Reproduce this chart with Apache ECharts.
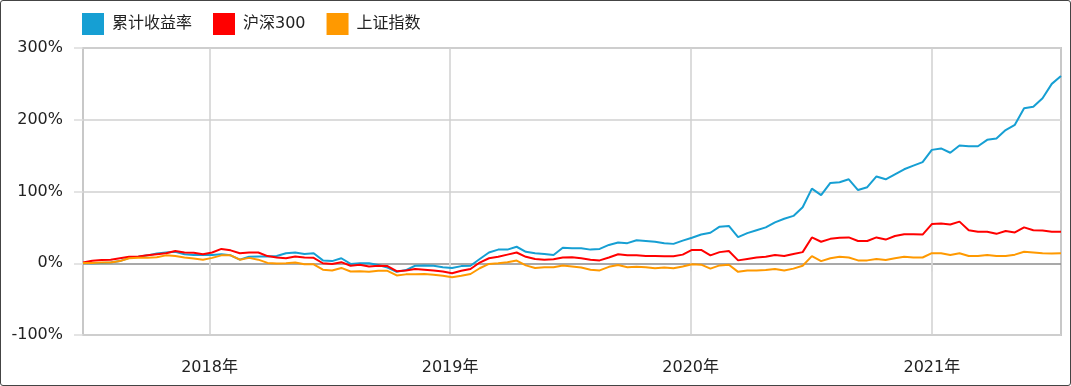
<!DOCTYPE html>
<html>
<head>
<meta charset="utf-8">
<script src="https://cdn.jsdelivr.net/npm/echarts@6/dist/echarts.min.js"></script>
<style>
html,body{margin:0;padding:0;background:#fff;}
#wrap{position:relative;width:1071px;height:386px;}
#chart{position:absolute;left:0;top:0;width:1071px;height:386px;}
#frame{position:absolute;left:0;top:0;width:1071px;height:386px;box-sizing:border-box;border:1px solid #444;border-radius:3px;pointer-events:none;}
</style>
</head>
<body>
<div id="wrap"><div id="chart"></div><div id="frame"></div></div>
<script>
// ---- data ----
const dates = [
'2017-06-23','2017-07-07','2017-07-21','2017-08-04','2017-08-18','2017-09-01','2017-09-15','2017-09-29','2017-10-13','2017-10-27','2017-11-10','2017-11-24','2017-12-08','2017-12-22',
'2018-01-05','2018-01-19','2018-02-02','2018-02-16','2018-03-02','2018-03-16','2018-03-30','2018-04-13','2018-04-27','2018-05-11','2018-05-25','2018-06-08','2018-06-22','2018-07-06','2018-07-20','2018-08-03','2018-08-17','2018-08-31','2018-09-14','2018-09-28','2018-10-12','2018-10-26','2018-11-09','2018-11-23','2018-12-07','2018-12-21',
'2019-01-04','2019-01-18','2019-02-01','2019-02-15','2019-03-01','2019-03-15','2019-03-29','2019-04-12','2019-04-26','2019-05-10','2019-05-24','2019-06-07','2019-06-21','2019-07-05','2019-07-19','2019-08-02','2019-08-16','2019-08-30','2019-09-13','2019-09-27','2019-10-11','2019-10-25','2019-11-08','2019-11-22','2019-12-06','2019-12-20',
'2020-01-03','2020-01-17','2020-01-31','2020-02-14','2020-02-28','2020-03-13','2020-03-27','2020-04-10','2020-04-24','2020-05-08','2020-05-22','2020-06-05','2020-06-19','2020-07-03','2020-07-17','2020-07-31','2020-08-14','2020-08-28','2020-09-11','2020-09-25','2020-10-09','2020-10-23','2020-11-06','2020-11-20','2020-12-04','2020-12-18',
'2021-01-01','2021-01-15','2021-01-29','2021-02-12','2021-02-26','2021-03-12','2021-03-26','2021-04-09','2021-04-23','2021-05-07','2021-05-21','2021-06-04','2021-06-18','2021-07-02','2021-07-16'
];
const cumReturn = [
0.5,0,0.5,1,3,7.5,9,11,13.5,15,16,12.5,11.5,11.5,
11.5,12.5,11,5,9,9.5,9.5,10,14,15,13,14,4,3,7,-1,0,0,-2.5,-6,-12,-9.5,-3.5,-3,-3.5,-5.5,
-6.5,-4,-3.5,6,15,19,19,23,16,14,13,11.5,21.5,21,21,19,20,25.5,29,28,32,31,30,28,27,31.5,
35.6,40,42.5,51,52,36.5,42,46,50,57,62,66,78,104,95,112,113,117,102,106,121,117,124,131,136,141,
158,160,154,164,163,163,172,174,185.6,193,216,218,230,250,261
];
const hs300 = [
1,3.5,4.5,5,7,9,9.5,11,12.5,14,17,15,14.5,12.5,
15,20,18,14,15,15,10,8,7,9.5,8,7.5,0,-1,1.5,-3.5,-2,-4.5,-3.5,-4,-11,-10,-8,-9,-10,-11.5,
-14,-10.5,-8,1,7,9,12,15,9,6,5,5.5,8,8.5,7,5,4,8,12.5,11,11,10,10,9.7,9.7,12,
18.5,18.5,11,15.5,17,4,6,8,9,11.6,10,13,15.5,36,30,34,35.5,36,31,31,36,33,38,40.5,40.5,40,
54.6,55.5,54,58,46,44,44,41,45,43,50,46,45.5,44,44
];
const szIndex = [
0.5,0.5,1,1,3,7,7.5,7.5,8.5,11,10,8,6.5,5,
7.5,11,11,5,7.5,5,0.5,-0.5,0,1,-1.5,-1.5,-9,-10,-6.5,-11.5,-11,-12,-10.5,-10.5,-17,-15.5,-15.5,-15,-16,-17.5,
-19.5,-17.5,-15,-7,-1,0,1.5,3.7,-3,-6.5,-5.5,-5.5,-3,-4.5,-6,-9,-10,-5,-2.5,-5.5,-5,-5.5,-7,-6,-7,-4.5,
-1.5,-2,-7.5,-3,-2,-12,-10,-10,-9.5,-8,-10,-7.5,-3.5,10,3,7,9,8,4,4,6,4.5,7,9,8,8,
14,14,11.6,14,10,10,11.5,10,10,12,16,15,14,13.5,14
];
const seriesNames = ['累计收益率','沪深300','上证指数'];
const yearTicks = ['2018-01-01','2019-01-01','2020-01-01','2021-01-01'];
const yTicks = {min:-100,max:300,step:100};

const ts = s => { const p = s.split('-').map(Number); return Date.UTC(p[0], p[1]-1, p[2]); };
const pair = arr => dates.map((d,i)=>[ts(d), arr[i]]);
const yearTs = yearTicks.map(ts);
const font = 'DejaVu Sans, Verdana, Noto Sans CJK SC, sans-serif';

const chart = echarts.init(document.getElementById('chart'), null, {renderer:'canvas'});
chart.setOption({
  animation:false,
  color:['#169fd3','#ff0000','#ff9900'],
  textStyle:{fontFamily:font},
  legend:{
    left:82, top:13, padding:0, itemWidth:22, itemHeight:22, itemGap:21, icon:'rect',
    textStyle:{fontSize:16, color:'#222', fontFamily:font, padding:[0,0,0,3]},
    data:seriesNames
  },
  grid:{left:83, right:10, top:48, bottom:51, show:true, borderColor:'#c8c8c8', borderWidth:2, containLabel:false},
  xAxis:{
    type:'value',
    min:ts(dates[0]), max:ts(dates[dates.length-1]),
    axisLine:{show:false},
    axisTick:{show:true, customValues:yearTs, length:8, lineStyle:{color:'#d6d6d6', width:1.5}},
    axisLabel:{customValues:yearTs, fontSize:16, color:'#222', margin:25, fontFamily:font,
      formatter:(v)=>new Date(v).getUTCFullYear()+'年'},
    splitLine:{show:true, lineStyle:{color:'#d0d0d0', width:1.5}}
  },
  yAxis:{
    type:'value', min:yTicks.min, max:yTicks.max, interval:yTicks.step,
    axisLine:{show:false},
    axisTick:{show:true, length:9, lineStyle:{color:'#dcdcdc', width:1.5}},
    axisLabel:{formatter:'{value}%', fontSize:16, color:'#222', margin:20, fontFamily:font},
    splitLine:{show:true, lineStyle:{color:['#d0d0d0','#8c8c8c','#d0d0d0','#d0d0d0','#d0d0d0'], width:1.5}}
  },
  series:[
    {name:seriesNames[0], type:'line', data:pair(cumReturn), showSymbol:false, lineStyle:{width:2}},
    {name:seriesNames[1], type:'line', data:pair(hs300), showSymbol:false, lineStyle:{width:2}},
    {name:seriesNames[2], type:'line', data:pair(szIndex), showSymbol:false, lineStyle:{width:2}}
  ]
});
</script>
</body>
</html>
